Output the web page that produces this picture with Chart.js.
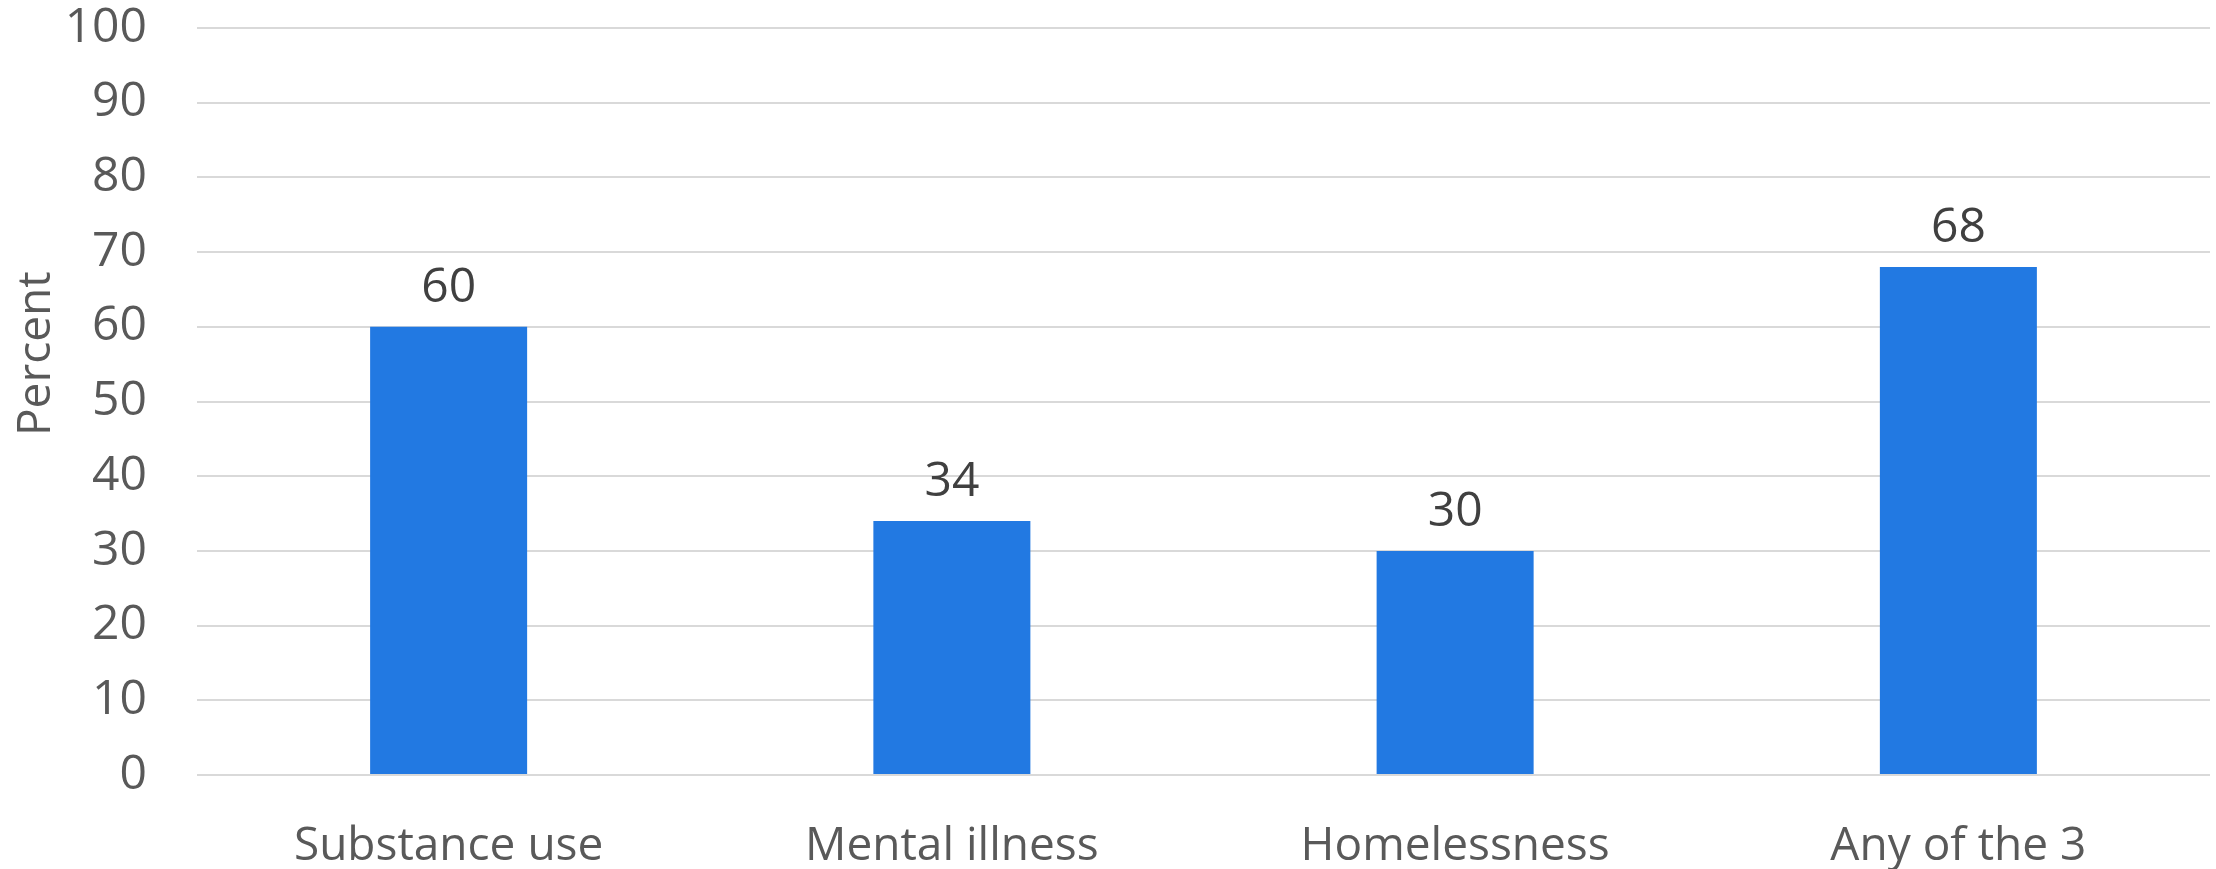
<!DOCTYPE html>
<html>
<head>
<meta charset="utf-8">
<script src="https://cdn.jsdelivr.net/npm/chart.js@4/dist/chart.umd.min.js"></script>
<style>
  html, body { margin: 0; padding: 0; background: #ffffff; }
  #wrap { width: 2216px; height: 869px; }
</style>
</head>
<body>
<div id="wrap"><canvas id="c" width="2216" height="869"></canvas></div>
<script>
const categories = ["Substance use", "Mental illness", "Homelessness", "Any of the 3"];
const percentValues = [60, 34, 30, 68];
const yTickValues = [0, 10, 20, 30, 40, 50, 60, 70, 80, 90, 100];
const yAxisTitle = "Percent";

const FONT = "'Open Sans', 'Noto Sans', sans-serif";

const valueLabels = {
  id: 'valueLabels',
  afterDatasetsDraw(chart) {
    const ctx = chart.ctx;
    const meta = chart.getDatasetMeta(0);
    const data = chart.data.datasets[0].data;
    ctx.save();
    ctx.font = "48px " + FONT;
    ctx.fillStyle = "#404040";
    ctx.textAlign = "center";
    ctx.textBaseline = "alphabetic";
    meta.data.forEach((bar, i) => {
      ctx.fillText(String(data[i]), bar.x, bar.y - 25);
    });
    ctx.restore();
  }
};

new Chart(document.getElementById('c'), {
  type: 'bar',
  data: {
    labels: categories,
    datasets: [{
      data: percentValues,
      backgroundColor: "#2279E2",
      borderWidth: 0,
      categoryPercentage: 1.0,
      barPercentage: 0.312
    }]
  },
  options: {
    responsive: false,
    devicePixelRatio: 1,
    animation: false,
    layout: { padding: { top: 28, right: 6, left: 0, bottom: 0 } },
    plugins: {
      legend: { display: false },
      tooltip: { enabled: false },
      title: { display: false }
    },
    scales: {
      x: {
        grid: { display: false, drawTicks: false },
        border: { display: false },
        ticks: {
          color: "#595959",
          font: { family: FONT, size: 46, lineHeight: 1.0 },
          padding: 49,
          maxRotation: 0,
          autoSkip: false
        },
        afterFit(scale) { scale.height = 94; }
      },
      y: {
        min: 0,
        max: 100,
        afterBuildTicks(scale) { scale.ticks = yTickValues.map(v => ({ value: v })); },
        grid: { color: "#d9d9d9", lineWidth: 2, drawTicks: false },
        border: { display: false },
        ticks: {
          color: "#595959",
          font: { family: FONT, size: 48, lineHeight: 1.0 },
          padding: 50
        },
        title: {
          display: true,
          text: "        " + yAxisTitle,
          color: "#595959",
          font: { family: FONT, size: 46, lineHeight: 1.0 },
          padding: { top: 14, bottom: 0 }
        },
        afterFit(scale) {
          scale.width = 197;
          scale.paddingTop = 0;
          scale.paddingBottom = 0;
        }
      }
    }
  },
  plugins: [valueLabels]
});
</script>
</body>
</html>
